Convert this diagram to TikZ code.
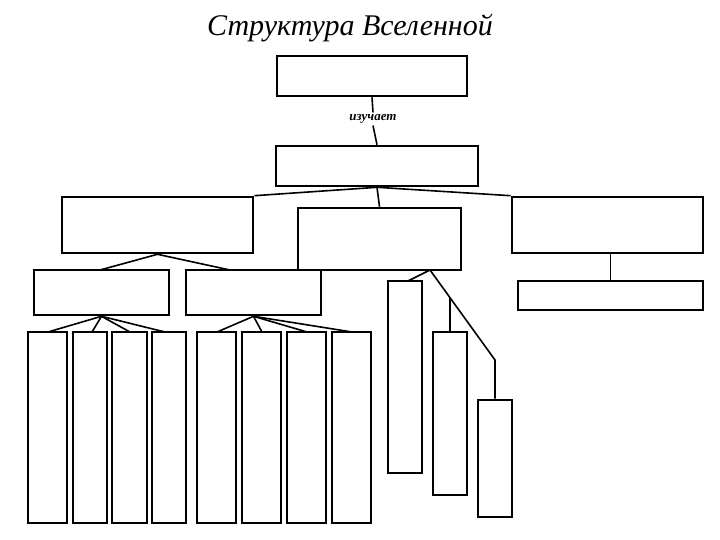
\documentclass[tikz,border=0pt]{standalone}
\usepackage{fontspec}
\setmainfont{Liberation Serif}
\begin{document}
\begin{tikzpicture}[x=1pt,y=-1pt,line width=2.2pt,
  bx/.style={draw,line width=2.6pt},ln/.style={line width=1.6pt}]
\useasboundingbox (0,0) rectangle (720,540);
\node[font=\itshape\fontsize{30}{34}\selectfont] (t) at (350,28) {Структура Вселенной};
\node[bx,minimum width=190,minimum height=40] (b1) at (372,76) {};
\node[bx,minimum width=202,minimum height=40] (b2) at (377,166) {};
\node[font=\bfseries\itshape\fontsize{13}{15}\selectfont,inner sep=1pt] (iz) at (373,119) {изучает};
\draw[ln] (b1.south) -- (iz.north);
\draw[ln] (iz.south) -- (b2.north);
\node[bx,minimum width=191,minimum height=56] (b3) at (157.5,225) {};
\node[bx,minimum width=163,minimum height=62] (b4) at (379.5,239) {};
\node[bx,minimum width=191,minimum height=56] (b5) at (607.5,225) {};
\draw[ln] (b2.south) -- (b3.north east);
\draw[ln] (b2.south) -- (b4.north);
\draw[ln] (b2.south) -- (b5.north west);
\node[bx,minimum width=135,minimum height=45] (b6) at (101.5,292.5) {};
\node[bx,minimum width=135,minimum height=45] (b7) at (253.5,292.5) {};
\draw[ln] (b3.south) -- (100,270) (b3.south) -- (230,270);
\node[bx,minimum width=185,minimum height=29] (b8) at (610.5,295.5) {};
\draw[ln] (b5.south -| b8.north) -- (b8.north);
\foreach \a/\b/\n in {28/67/c1,73/107/c2,112/147/c3,152/186/c4,197/236/c5,242/281/c6,287/326/c7,332/371/c8}{
  \node[bx,minimum width=\b-\a,minimum height=191] (\n) at ({(\a+\b)/2},427.5) {};}
\foreach \n/\x in {c1/48,c2/92,c3/130,c4/165}{\draw[ln] (b6.south) -- (\x,332);}
\foreach \n/\x in {c5/217,c6/262,c7/307,c8/352}{\draw[ln] (b7.south) -- (\x,332);}
\node[bx,minimum width=34,minimum height=192] (d1) at (405,377) {};
\node[bx,minimum width=34,minimum height=163] (d2) at (450,413.5) {};
\node[bx,minimum width=34,minimum height=117] (d3) at (495,458.5) {};
\coordinate (p) at (430,270);
\draw[ln] (p) -- (408,281);
\draw[ln] (p) -- (495,360) -- (d3.north);
\draw[ln] (450,298) -- (d2.north);
\end{tikzpicture}
\end{document}
